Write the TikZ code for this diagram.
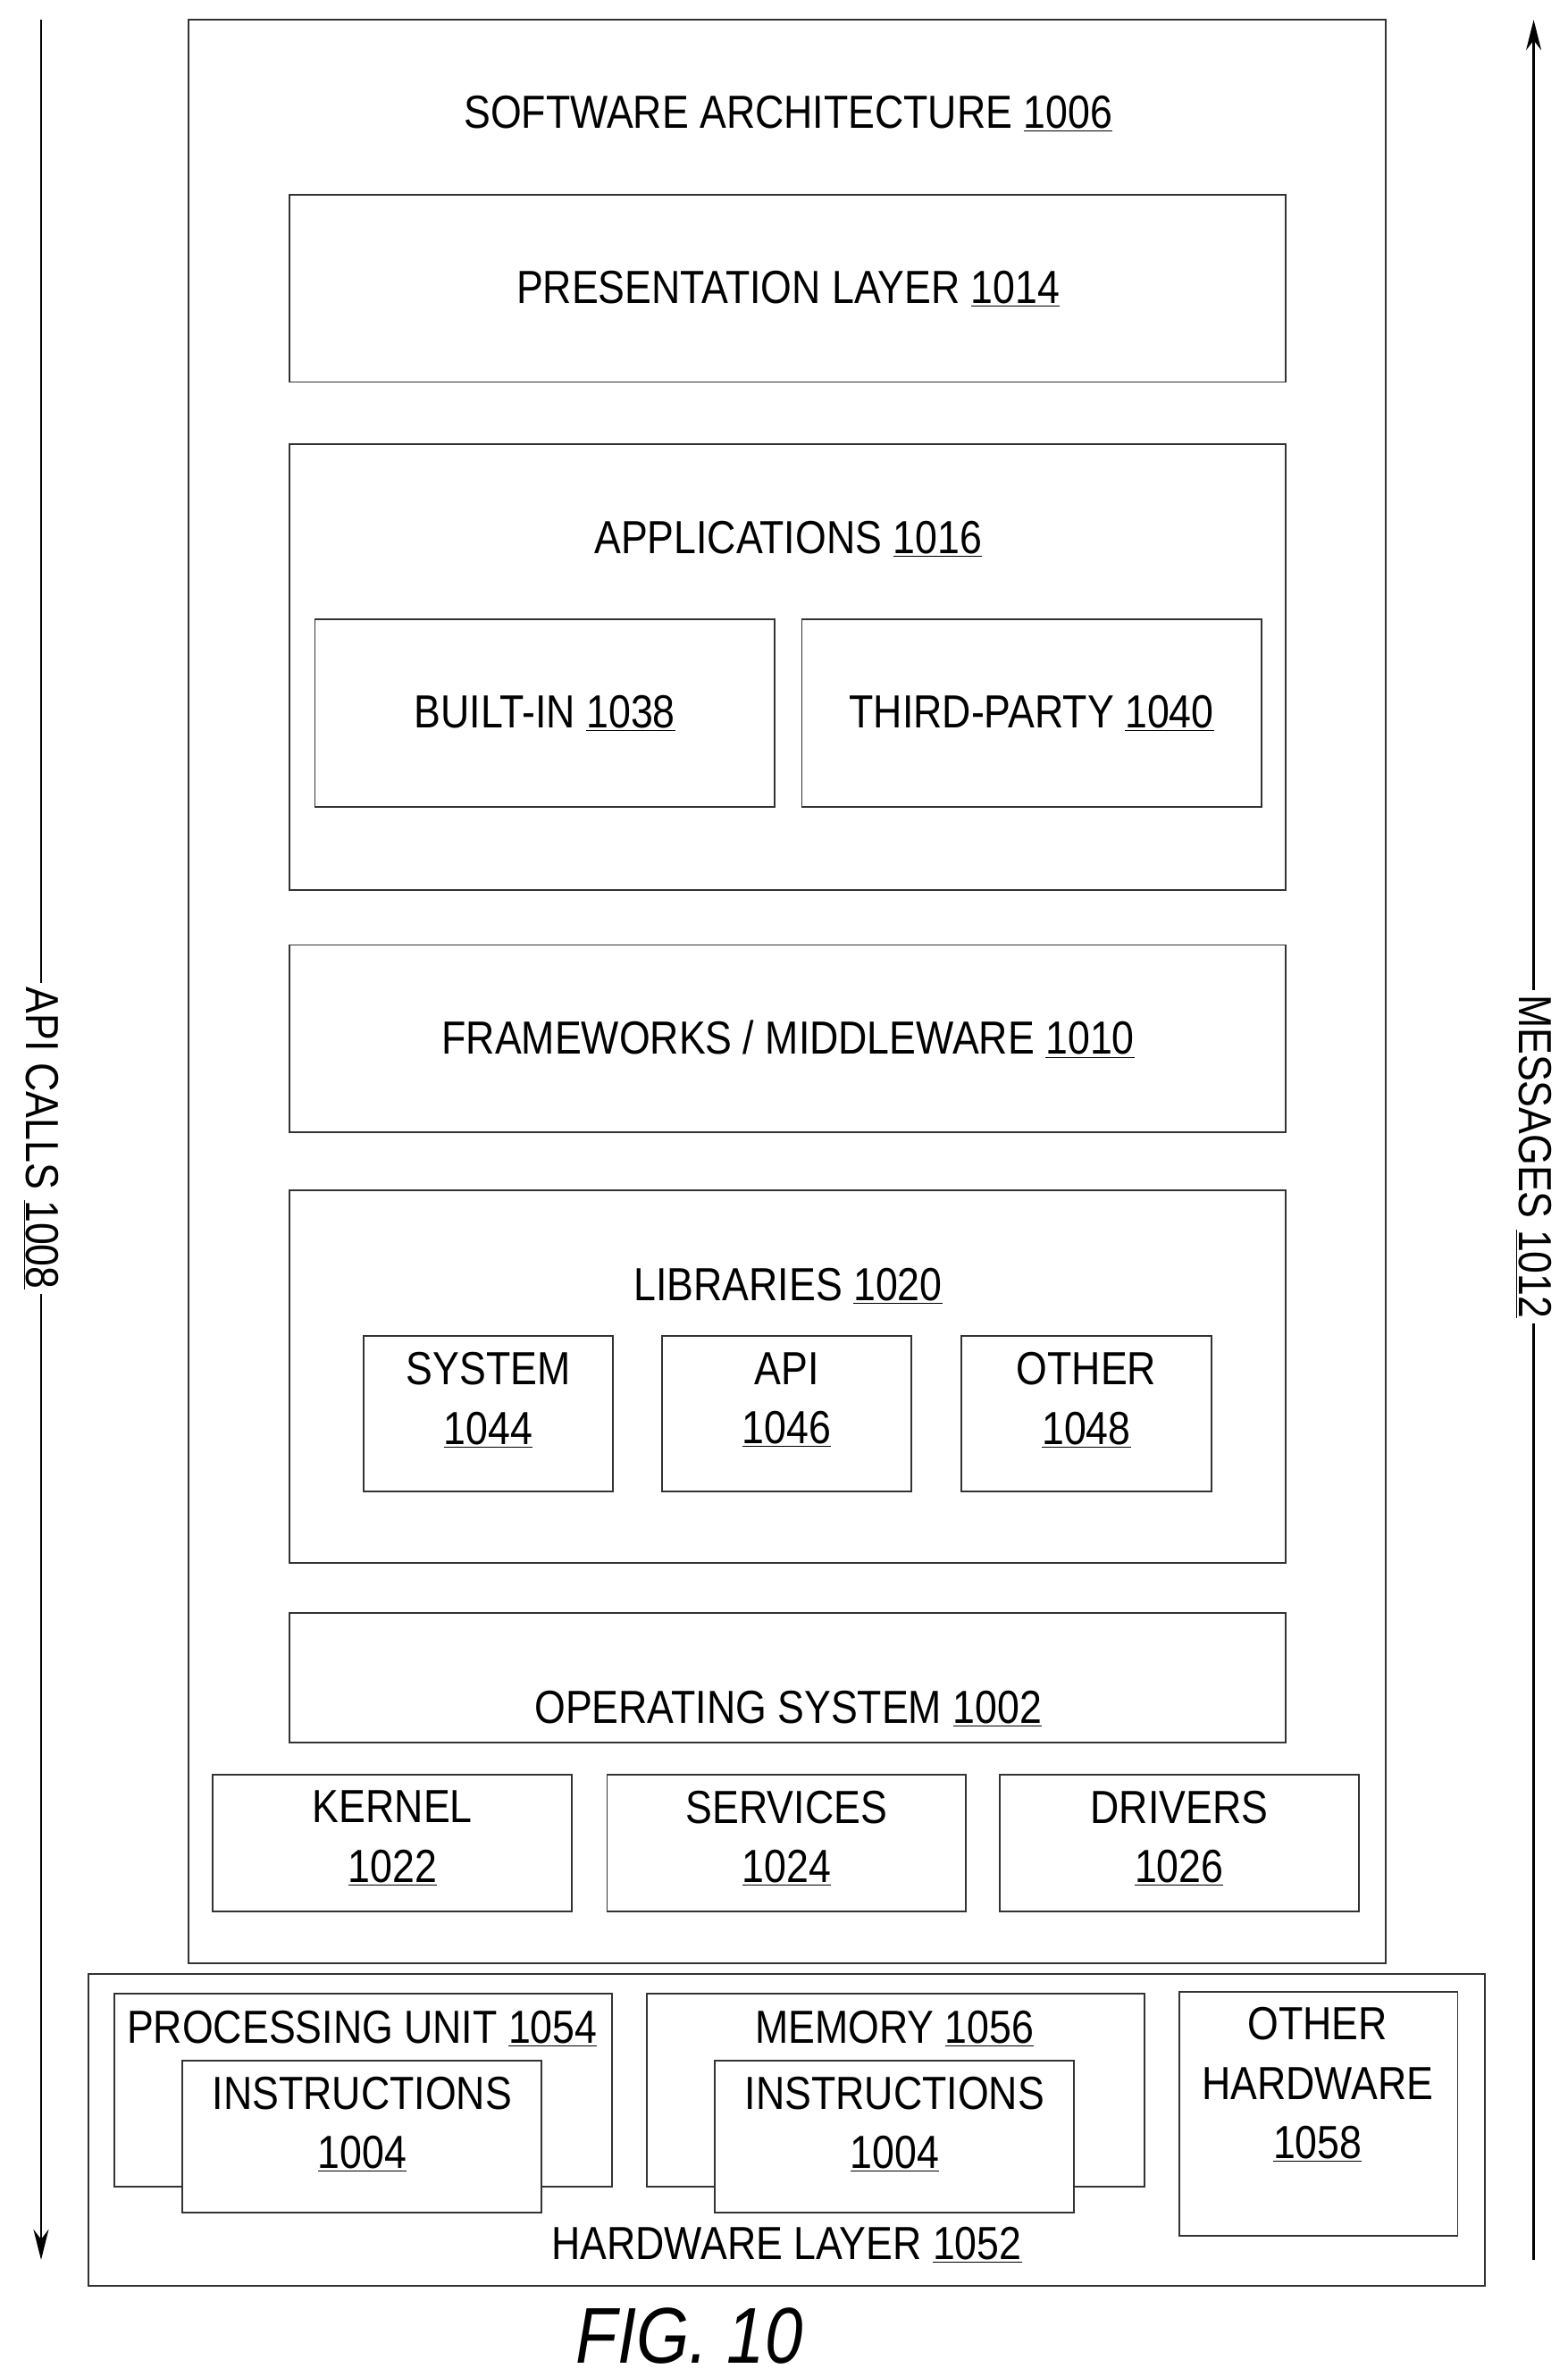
\documentclass[tikz,border=0pt]{standalone}
\usepackage{fontspec}
\setmainfont[FakeStretch=0.86]{Liberation Sans}
\usetikzlibrary{arrows.meta}
\begin{document}
\begin{tikzpicture}[x=1pt,y=-1pt,
  bx/.style={draw=black!80,line width=1.1pt,fill=white},
  lb/.style={font=\fontsize{30.5}{39}\selectfont,align=center,inner sep=0pt},
  ln/.style={draw=black,line width=1.6pt}]
\useasboundingbox (0,0) rectangle (1030,1562);
\newcommand{\un}[1]{\underline{#1}}
\draw[bx] (124,13) rectangle (911,1290);
\node[lb] (t0) at (518,75) {SOFTWARE ARCHITECTURE \un{1006}};
\draw[bx] (190,128) rectangle (845,251);
\node[lb] (t1) at (518,190) {PRESENTATION LAYER \un{1014}};
\draw[bx] (190,292) rectangle (845,585);
\node[lb] (t2) at (518,354) {APPLICATIONS \un{1016}};
\draw[bx] (207,407) rectangle (509,530);
\node[lb] (t3) at (358,469) {BUILT-IN \un{1038}};
\draw[bx] (527,407) rectangle (829,530);
\node[lb] (t4) at (678,469) {THIRD-PARTY \un{1040}};
\draw[bx] (190,621) rectangle (845,744);
\node[lb] (t5) at (518,683) {FRAMEWORKS / MIDDLEWARE \un{1010}};
\draw[bx] (190,782) rectangle (845,1027);
\node[lb] (t6) at (518,845) {LIBRARIES \un{1020}};
\draw[bx] (239,878) rectangle (403,980);
\node[lb] (t7) at (321,920) {SYSTEM\\\un{1044}};
\draw[bx] (435,878) rectangle (599,980);
\node[lb] (t8) at (517,920) {API\\\un{1046}};
\draw[bx] (632,878) rectangle (796,980);
\node[lb] (t9) at (714,920) {OTHER\\\un{1048}};
\draw[bx] (190,1060) rectangle (845,1145);
\node[lb] (t10) at (518,1123) {OPERATING SYSTEM \un{1002}};
\draw[bx] (140,1166) rectangle (376,1256);
\node[lb] (t11) at (258,1208) {KERNEL\\\un{1022}};
\draw[bx] (399,1166) rectangle (635,1256);
\node[lb] (t12) at (517,1208) {SERVICES\\\un{1024}};
\draw[bx] (657,1166) rectangle (893,1256);
\node[lb] (t13) at (775,1208) {DRIVERS\\\un{1026}};
\draw[bx] (58,1297) rectangle (976,1502);
\node[lb] (t14) at (517,1475) {HARDWARE LAYER \un{1052}};
\draw[bx] (75,1310) rectangle (402,1437);
\node[lb] (t15) at (238,1333) {PROCESSING UNIT \un{1054}};
\draw[bx] (120,1354) rectangle (356,1454);
\node[lb] (t16) at (238,1396) {INSTRUCTIONS\\\un{1004}};
\draw[bx] (425,1310) rectangle (752,1437);
\node[lb] (t17) at (588,1333) {MEMORY \un{1056}};
\draw[bx] (470,1354) rectangle (706,1454);
\node[lb] (t18) at (588,1396) {INSTRUCTIONS\\\un{1004}};
\draw[bx] (775,1309) rectangle (958,1469);
\node[lb] (t19) at (866,1370) {OTHER\\HARDWARE\\\un{1058}};
\node[font=\fontsize{52}{60}\selectfont\itshape,inner sep=0pt] (fig) at (453,1535) {FIG. 10};
\coordinate (a1) at (27,13); \coordinate (a2) at (27,1485);
\draw[ln,-{Stealth[length=20pt,width=10pt]}] (a1) -- (a2);
\node[lb,rotate=-90,fill=white,inner sep=3pt] (api) at (27,748) {API CALLS \un{1008}};
\coordinate (m1) at (1008,1485); \coordinate (m2) at (1008,13);
\draw[ln,-{Stealth[length=20pt,width=10pt]}] (m1) -- (m2);
\node[lb,rotate=-90,fill=white,inner sep=3pt] (msg) at (1008,760) {MESSAGES \un{1012}};
\end{tikzpicture}
\end{document}
